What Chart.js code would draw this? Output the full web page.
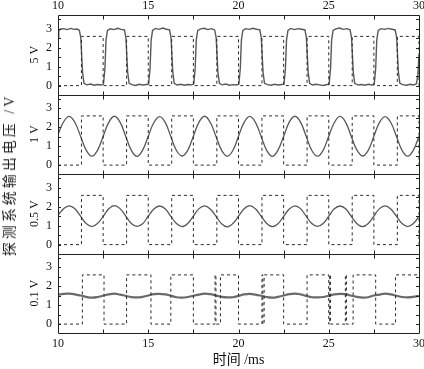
<!DOCTYPE html>
<html>
<head>
<meta charset="utf-8">
<script src="https://cdn.jsdelivr.net/npm/chart.js@4.4.0/dist/chart.umd.min.js"></script>
<style>
  body { margin: 0; background: #fff; }
  #wrap { position: relative; width: 424px; height: 369px; }
  #ylab {
    position: absolute; left: 8px; top: 175px;
    transform: translate(-50%, -50%) rotate(-90deg);
    white-space: nowrap; font: 14px 'Liberation Serif', 'Noto Sans CJK SC', serif;
    letter-spacing: 3px; color: #222;
  }
</style>
</head>
<body>
<div id="wrap">
  <canvas id="chart" width="424" height="369"></canvas>
  <div id="ylab">探测系统输出电压 /V</div>
</div>
<script>
// panel titles (amplitude of the drive signal)
const panelTitles = ['5 V', '1 V', '0.5 V', '0.1 V'];
const xTickVals = [10, 15, 20, 25, 30];
const xMarks = [12.5, 15, 17.5, 20, 22.5, 25, 27.5];
const yTickVals = [0, 1, 2, 3];
const yMarks = [0, 0.5, 1, 1.5, 2, 2.5, 3, 3.5];

// reference square wave (dashed), [time ms, level] at each edge
const refEdges = [
  [10, 0], [11.3, 2.6], [12.5, 0], [13.8, 2.6], [15, 0], [16.3, 2.6], [17.5, 0],
  [18.8, 2.6], [20, 0], [21.3, 2.6], [22.5, 0], [23.8, 2.6], [25, 0], [26.3, 2.6],
  [27.5, 0], [28.8, 2.6], [30, 0]
];
// reference square in the 0.1 V panel (with the glitches)
const refEdges01 = [
  [10, 0], [11.35, 2.6], [12.55, 0], [13.8, 2.6], [15.15, 0], [16.25, 2.6], [17.5, 0],
  [18.7, 2.6], [18.75, 0], [19.0, 2.6], [20, 0], [21.3, 2.6], [21.35, 0], [21.42, 2.6],
  [22.5, 0], [23.8, 2.6], [25, 0], [25.05, 2.6], [25.1, 0], [25.92, 2.6], [25.98, 0],
  [26.35, 2.6], [27.6, 0], [28.7, 2.6], [30, 2.6]
];

// 5 V: detector output, [time ms, V]
const out5V = [
  [10.00, 2.55], [10.04, 2.90], [10.12, 2.98], [10.3, 3.01], [10.5, 2.96], [10.7, 3.02], [10.9, 2.97],
  [11.06, 2.99], [11.18, 2.93], [11.26, 2.55], [11.36, 0.70], [11.44, 0.12], [11.6, 0.04], [11.8, 0.08],
  [12.0, 0.02], [12.2, 0.06], [12.4, 0.03], [12.52, 0.08],
  [12.6, 0.9], [12.66, 2.4], [12.74, 2.92], [12.9, 3.0], [13.1, 2.96], [13.3, 3.03], [13.5, 2.97],
  [13.68, 2.94], [13.76, 2.55], [13.86, 0.7], [13.94, 0.12], [14.1, 0.05], [14.3, 0.01], [14.5, 0.07],
  [14.7, 0.03], [14.9, 0.06], [15.02, 0.08],
  [15.1, 0.9], [15.16, 2.4], [15.24, 2.92], [15.4, 3.02], [15.6, 2.97], [15.8, 3.04], [16.0, 2.98],
  [16.18, 2.95], [16.26, 2.55], [16.36, 0.7], [16.44, 0.12], [16.6, 0.03], [16.8, 0.07], [17.0, 0.02],
  [17.2, 0.06], [17.4, 0.04], [17.52, 0.08],
  [17.6, 0.9], [17.66, 2.4], [17.74, 2.92], [17.9, 3.0], [18.1, 3.03], [18.3, 2.96], [18.5, 3.01],
  [18.68, 2.94], [18.76, 2.55], [18.86, 0.7], [18.94, 0.12], [19.1, 0.04], [19.3, 0.08], [19.5, 0.02],
  [19.7, 0.05], [19.9, 0.03], [20.02, 0.08],
  [20.1, 0.9], [20.16, 2.4], [20.24, 2.92], [20.4, 3.01], [20.6, 2.97], [20.8, 3.03], [21.0, 2.98],
  [21.18, 2.95], [21.26, 2.55], [21.36, 0.7], [21.44, 0.12], [21.6, 0.05], [21.8, 0.02], [22.0, 0.07],
  [22.2, 0.03], [22.4, 0.06], [22.52, 0.08],
  [22.6, 0.9], [22.66, 2.4], [22.74, 2.92], [22.9, 3.02], [23.1, 2.96], [23.3, 3.01], [23.5, 2.98],
  [23.68, 2.94], [23.76, 2.55], [23.86, 0.7], [23.94, 0.12], [24.1, 0.03], [24.3, 0.07], [24.5, 0.04],
  [24.7, 0.01], [24.9, 0.06], [25.02, 0.08],
  [25.1, 0.9], [25.16, 2.4], [25.24, 2.92], [25.4, 3.0], [25.6, 3.04], [25.8, 2.97], [26.0, 3.01],
  [26.18, 2.95], [26.26, 2.55], [26.36, 0.7], [26.44, 0.12], [26.6, 0.04], [26.8, 0.06], [27.0, 0.02],
  [27.2, 0.07], [27.4, 0.03], [27.52, 0.08],
  [27.6, 0.9], [27.66, 2.4], [27.74, 2.92], [27.9, 3.01], [28.1, 2.97], [28.3, 3.02], [28.5, 2.98],
  [28.68, 2.94], [28.76, 2.55], [28.86, 0.7], [28.94, 0.12], [29.1, 0.05], [29.3, 0.02], [29.5, 0.07],
  [29.7, 0.03], [29.86, 0.1], [29.94, 0.6], [30.0, 1.6]
];

// sample times for the three sine-like outputs (ms)
const sineT = [
  10, 10.3125, 10.625, 10.9375, 11.25, 11.5625, 11.875, 12.1875,
  12.5, 12.8125, 13.125, 13.4375, 13.75, 14.0625, 14.375, 14.6875,
  15, 15.3125, 15.625, 15.9375, 16.25, 16.5625, 16.875, 17.1875,
  17.5, 17.8125, 18.125, 18.4375, 18.75, 19.0625, 19.375, 19.6875,
  20, 20.3125, 20.625, 20.9375, 21.25, 21.5625, 21.875, 22.1875,
  22.5, 22.8125, 23.125, 23.4375, 23.75, 24.0625, 24.375, 24.6875,
  25, 25.3125, 25.625, 25.9375, 26.25, 26.5625, 26.875, 27.1875,
  27.5, 27.8125, 28.125, 28.4375, 28.75, 29.0625, 29.375, 29.6875,
  30
];
const out1V = [
  1.62, 2.29, 2.57, 2.25, 1.52, 0.79, 0.47, 0.78,
  1.51, 2.26, 2.58, 2.27, 1.53, 0.78, 0.46, 0.79,
  1.52, 2.25, 2.56, 2.26, 1.51, 0.77, 0.48, 0.78,
  1.53, 2.27, 2.58, 2.25, 1.52, 0.79, 0.47, 0.77,
  1.52, 2.26, 2.57, 2.26, 1.53, 0.78, 0.46, 0.79,
  1.51, 2.27, 2.58, 2.27, 1.52, 0.77, 0.47, 0.78,
  1.53, 2.25, 2.57, 2.26, 1.51, 0.79, 0.48, 0.78,
  1.52, 2.26, 2.56, 2.25, 1.52, 0.78, 0.47, 0.79,
  1.52
];
const out05V = [
  1.55, 1.90, 2.05, 1.89, 1.50, 1.11, 0.95, 1.11,
  1.49, 1.89, 2.06, 1.90, 1.51, 1.12, 0.96, 1.10,
  1.50, 1.88, 2.04, 1.89, 1.49, 1.11, 0.95, 1.12,
  1.51, 1.90, 2.05, 1.88, 1.50, 1.10, 0.94, 1.11,
  1.50, 1.89, 2.06, 1.89, 1.51, 1.12, 0.95, 1.10,
  1.49, 1.88, 2.05, 1.90, 1.50, 1.11, 0.96, 1.11,
  1.50, 1.89, 2.04, 1.89, 1.49, 1.10, 0.95, 1.12,
  1.51, 1.90, 2.05, 1.88, 1.50, 1.11, 0.95, 1.11,
  1.50
];
const out01V = [
  1.55, 1.60, 1.61, 1.57, 1.51, 1.44, 1.40, 1.43,
  1.50, 1.57, 1.61, 1.56, 1.49, 1.43, 1.41, 1.44,
  1.51, 1.58, 1.60, 1.57, 1.50, 1.42, 1.40, 1.43,
  1.50, 1.56, 1.61, 1.58, 1.51, 1.44, 1.41, 1.42,
  1.49, 1.57, 1.60, 1.56, 1.50, 1.43, 1.40, 1.44,
  1.51, 1.58, 1.61, 1.57, 1.49, 1.42, 1.41, 1.43,
  1.50, 1.57, 1.60, 1.58, 1.50, 1.44, 1.40, 1.42,
  1.51, 1.56, 1.61, 1.57, 1.50, 1.43, 1.41, 1.44,
  1.50
];

const serif = "'Liberation Serif', 'Times New Roman', 'Noto Sans CJK SC', serif";
const panelIds = ['p1', 'p2', 'p3', 'p4'];

const pairs = arr => arr.map(p => ({ x: p[0], y: p[1] }));
const zip = (t, v) => t.map((x, i) => ({ x, y: v[i] }));

function panelAxis(title) {
  return {
    type: 'linear', position: 'left', stack: 'v', stackWeight: 1,
    min: -0.47, max: 3.73,
    afterBuildTicks: s => { s.ticks = yTickVals.map(v => ({ value: v })); },
    afterFit: s => { s.width = 38; },
    grid: { display: false, drawTicks: false },
    border: { display: false },
    ticks: { padding: 6, autoSkip: false, color: '#111', font: { family: serif, size: 12 } },
    title: { display: true, text: title, color: '#111', padding: { top: 8, bottom: 0 },
             font: { family: serif, size: 12 } }
  };
}

// panel frames and inward tick marks
const framePlugin = {
  id: 'frames',
  afterDraw(chart) {
    const { ctx, chartArea: a, scales } = chart;
    const x = scales.x;
    ctx.save();
    ctx.strokeStyle = '#222';
    ctx.lineWidth = 1;
    ctx.beginPath();
    for (const id of panelIds) {
      const s = scales[id];
      const top = Math.round(s.top) + 0.5, bot = Math.round(s.bottom) + 0.5;
      ctx.rect(Math.round(a.left) + 0.5, top, Math.round(a.right - a.left), bot - top);
      for (const v of yMarks) {
        const y = Math.round(s.getPixelForValue(v)) + 0.5;
        if (y <= top || y >= bot) continue;
        ctx.moveTo(a.left, y); ctx.lineTo(a.left + 3, y);
        ctx.moveTo(a.right, y); ctx.lineTo(a.right - 3, y);
      }
      for (const t of xMarks) {
        const px = Math.round(x.getPixelForValue(t)) + 0.5;
        ctx.moveTo(px, top); ctx.lineTo(px, top + 4);
        ctx.moveTo(px, bot); ctx.lineTo(px, bot - 4);
      }
    }
    ctx.stroke();
    ctx.restore();
  }
};

const solid = { pointRadius: 0, borderColor: '#585858', borderWidth: 1.3, fill: false };
const dashed = { pointRadius: 0, borderColor: '#2a2a2a', borderWidth: 1, borderDash: [3, 3],
                 stepped: true, fill: false, tension: 0 };

new Chart(document.getElementById('chart'), {
  type: 'line',
  data: {
    datasets: [
      { ...dashed, data: pairs(refEdges), yAxisID: 'p1' },
      { ...solid, data: pairs(out5V), yAxisID: 'p1', tension: 0, borderWidth: 1.4 },
      { ...dashed, data: pairs(refEdges), yAxisID: 'p2' },
      { ...solid, data: zip(sineT, out1V), yAxisID: 'p2', tension: 0.4 },
      { ...dashed, data: pairs(refEdges), yAxisID: 'p3' },
      { ...solid, data: zip(sineT, out05V), yAxisID: 'p3', tension: 0.4 },
      { ...dashed, data: pairs(refEdges01), yAxisID: 'p4' },
      { ...solid, data: zip(sineT, out01V), yAxisID: 'p4', tension: 0.4, borderWidth: 2.2, borderColor: '#6a6a6a' }
    ]
  },
  options: {
    responsive: false,
    animation: false,
    layout: { padding: { left: 20, right: 5, top: 0, bottom: 0 } },
    plugins: { legend: { display: false }, tooltip: { enabled: false } },
    scales: {
      x: {
        type: 'linear', position: 'bottom', min: 10, max: 30,
        afterBuildTicks: s => { s.ticks = xTickVals.map(v => ({ value: v })); },
        afterFit: s => { s.height = 36; s.paddingLeft = 0; s.paddingRight = 0; },
        grid: { display: false, drawTicks: false }, border: { display: false },
        ticks: { padding: 4, maxRotation: 0, autoSkip: false, color: '#111', font: { family: serif, size: 12 } },
        title: { display: true, text: '时间 /ms', color: '#111', padding: { top: 0, bottom: 0 },
                 font: { family: serif, size: 14 } }
      },
      x2: {
        type: 'linear', position: 'top', min: 10, max: 30,
        afterBuildTicks: s => { s.ticks = xTickVals.map(v => ({ value: v })); },
        afterFit: s => { s.height = 15; s.paddingLeft = 0; s.paddingRight = 0; },
        grid: { display: false, drawTicks: false }, border: { display: false },
        ticks: { padding: 2, maxRotation: 0, autoSkip: false, color: '#111', font: { family: serif, size: 12 } }
      },
      // stacked axes are laid out bottom-up, so the lowest panel comes first
      p4: panelAxis(panelTitles[3]),
      p3: panelAxis(panelTitles[2]),
      p2: panelAxis(panelTitles[1]),
      p1: panelAxis(panelTitles[0])
    }
  },
  plugins: [framePlugin]
});
</script>
</body>
</html>
